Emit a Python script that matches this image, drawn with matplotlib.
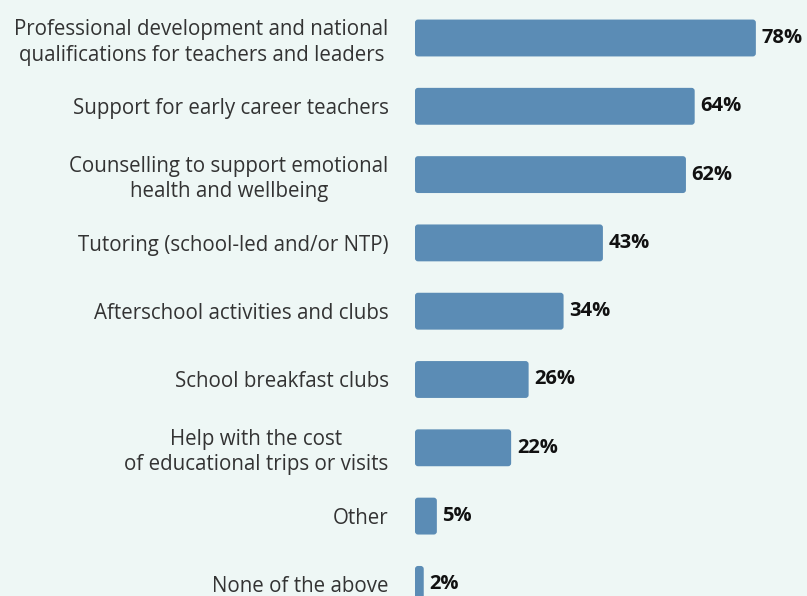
import matplotlib.pyplot as plt
from matplotlib.patches import FancyBboxPatch

categories = [
    "Professional development and national\nqualifications for teachers and leaders",
    "Support for early career teachers",
    "Counselling to support emotional\nhealth and wellbeing",
    "Tutoring (school-led and/or NTP)",
    "Afterschool activities and clubs",
    "School breakfast clubs",
    "Help with the cost\nof educational trips or visits",
    "Other",
    "None of the above",
]
values = [78, 64, 62, 43, 34, 26, 22, 5, 2]

bg = "#eef7f5"
bar_color = "#5b8cb5"

plt.rcParams['font.family'] = ['Open Sans', 'DejaVu Sans']

fig = plt.figure(figsize=(8.07, 5.96), dpi=100, facecolor=bg)
ax = fig.add_axes([415 / 807, 0, 1 - 415 / 807, 1])
ax.set_facecolor(bg)

pitch = 68.3
ax.set_xlim(0, (807 - 415) / 4.37)
ax.set_ylim((596 - 38) / pitch, -38 / pitch)

ypos = list(range(len(values)))
bars = ax.barh(ypos, values, height=0.54, color=bar_color)

# swap the plain rectangles for rounded ones
for b in bars:
    x0, y0 = b.get_x(), b.get_y()
    w, h = b.get_width(), b.get_height()
    r = min(0.7, w / 2)
    patch = FancyBboxPatch((x0, y0), w, h,
                           boxstyle=f"round,pad=0,rounding_size={r}",
                           mutation_aspect=(3 / pitch) / 0.7,
                           facecolor=bar_color, edgecolor="none")
    b.remove()
    ax.add_patch(patch)

for y, v in zip(ypos, values):
    ax.text(v + 1.3, y, f"{v}%", va="center", ha="left",
            fontsize=14.5, fontweight="bold", color="#111111")

ax.set_yticks(ypos)
ax.set_yticklabels(categories, fontsize=14.8, color="#333333",
                   multialignment="center", linespacing=1.25)
ax.tick_params(axis="y", length=0, pad=19)
ax.set_xticks([])
for s in ax.spines.values():
    s.set_visible(False)

fig.savefig("out.png", dpi=100, facecolor=bg)
